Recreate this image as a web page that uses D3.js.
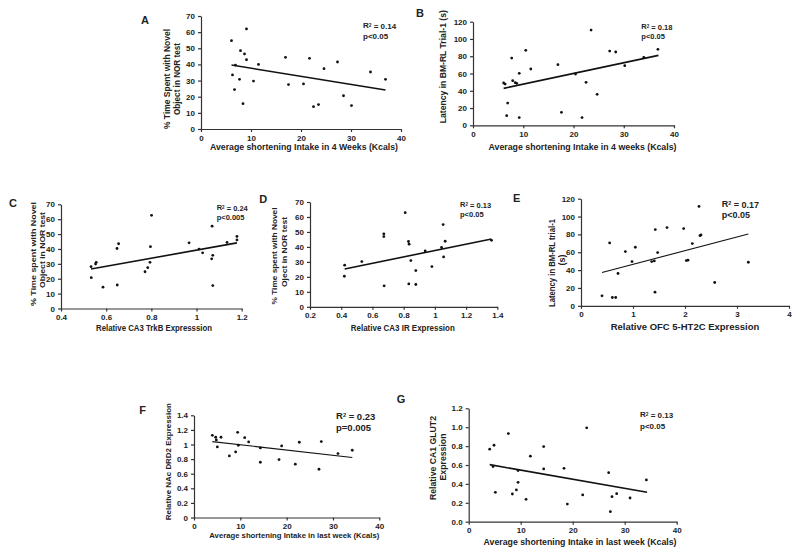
<!DOCTYPE html>
<html><head><meta charset="utf-8">
<script src="https://cdn.jsdelivr.net/npm/d3@7"></script>
<style>
html,body{margin:0;padding:0;background:#fff;}
svg{display:block;font-family:"Liberation Sans",Arial,sans-serif;font-weight:bold;}
</style></head>
<body><svg id="chart" width="800" height="555"></svg>
<script>
// ---------- DATA ----------
const aX = [6.1,9.1,7.9,8.7,9.1,6.9,11.5,6.3,7.7,10.5,6.7,8.4,16.9,17.5,20.5,21.7,22.5,23.5,24.6,27.3,28.5,30.1,33.9,36.9];
const aY = [54.7,62.0,48.5,46.5,42.9,39.6,40.0,33.5,30.8,29.7,24.4,15.7,44.4,27.5,27.9,43.8,13.8,15.1,37.4,41.5,20.6,14.5,35.3,30.8];
const aLine = [[6.1,39.6],[36.9,24.2]];

const bX = [6.1,6.4,6.7,6.9,7.7,7.9,8.4,8.7,9.2,9.2,10.5,11.5,16.9,17.6,20.4,21.7,22.5,23.5,24.7,27.2,28.4,30.2,34.0,36.8];
const bY = [49.0,47.8,11.2,25.8,77.9,51.7,49.4,48.6,60.2,8.9,86.8,65.2,70.2,15.0,59.4,8.9,49.8,110.3,35.9,86.0,84.9,69.1,78.7,88.0];
const bLine = [[6.1,42.8],[36.9,81.0]];

const cX = [0.533,0.534,0.553,0.556,0.586,0.648,0.655,0.649,0.772,0.784,0.794,0.796,0.801,0.967,1.011,1.027,1.069,1.072,1.067,1.072,1.135,1.179,1.179];
const cY = [28.1,20.7,29.9,31.0,14.3,40.3,43.5,15.8,24.7,27.4,31.0,41.5,62.6,44.1,39.9,37.4,55.3,35.7,33.4,15.4,44.4,48.4,46.1];
const cLine = [[0.533,26.5],[1.179,44.1]];

const dX = [0.422,0.420,0.532,0.673,0.673,0.675,0.810,0.831,0.835,0.833,0.846,0.878,0.878,0.938,0.981,1.043,1.053,1.056,1.066,1.363];
const dY = [27.8,20.4,30.2,48.7,46.9,14.0,62.9,43.6,41.8,15.3,30.9,24.2,14.9,37.3,26.9,39.6,54.9,33.3,43.8,44.4];
const dLine = [[0.422,25.3],[1.363,45.3]];

const eX = [0.404,0.551,0.603,0.667,0.712,0.853,0.981,1.045,1.359,1.410,1.429,1.423,1.474,1.654,1.974,2.026,2.058,2.141,2.269,2.288,2.308,2.571,3.218];
const eY = [11.2,70.4,9.3,9.3,36.2,60.8,49.6,65.6,49.6,50.3,85.4,15.3,59.6,87.6,86.5,50.7,51.1,69.7,111.4,78.6,79.4,26.1,48.8];
const eLine = [[0.404,37.3],[3.218,80.5]];

const fX = [3.96,4.68,4.82,5.04,5.83,7.63,8.99,9.42,9.57,10.94,11.8,14.32,14.32,18.35,18.92,21.87,22.73,26.98,27.48,31.08,34.17];
const fY = [1.126,1.099,1.062,0.967,1.099,0.844,0.898,1.167,0.990,1.094,1.035,0.953,0.757,0.793,0.980,0.730,1.031,0.661,1.040,0.876,0.921];
const fLine = [[3.96,1.04],[34.17,0.821]];

const gX = [4.04,4.87,4.68,5.13,7.63,8.4,9.17,9.49,9.49,11.03,11.86,14.42,14.42,18.33,18.97,21.92,22.69,26.92,27.24,27.56,28.46,31.03,34.17];
const gY = [0.767,0.809,0.583,0.311,0.933,0.293,0.336,0.541,0.417,0.237,0.693,0.795,0.558,0.565,0.187,0.283,0.993,0.519,0.106,0.265,0.297,0.251,0.442];
const gLine = [[4.04,0.604],[34.3,0.311]];

const ticks0to40 = [0,10,20,30,40];
const ticks0to70 = [0,10,20,30,40,50,60,70];
const ticks0to120 = [0,20,40,60,80,100,120];
const ticksC = [0.4,0.6,0.8,1,1.2];
const ticksD = [0.2,0.4,0.6,0.8,1,1.2,1.4];
const ticksE = [0,1,2,3,4];
const ticksF = [0,0.2,0.4,0.6,0.8,1,1.2,1.4];
const ticksG = [0,0.2,0.4,0.6,0.8,1.0,1.2];

// ---------- PANELS ----------
const panels = [
 {id:"A", x:aX, y:aY, line:aLine, xd:[0,40], yd:[0,70], xt:ticks0to40, yt:ticks0to70, yf:d=>d,
  L:201,R:401,T:16,B:129, lw:1.6,
  letter:[145,20], xTitle:"Average shortening Intake in 4 Weeks (Kcals)", xT:[304,147,188,9],
  yTitle:["% Time Spent with Novel","Object in NOR test"], yT:[[167,79,100],[177,79,72]], yfs:9,
  r2:"0.14", p:"p<0.05", st:[363,26,35.7], sfs:8},
 {id:"B", x:bX, y:bY, line:bLine, xd:[0,40], yd:[0,120], xt:ticks0to40, yt:ticks0to120, yf:d=>d,
  L:473,R:674,T:21.7,B:125.3, lw:1.6,
  letter:[420,13.3], xTitle:"Average shortening Intake in 4 weeks  (Kcals)", xT:[582.5,146.7,188,9],
  yTitle:["Latency in BM-RL Trial-1  (s)"], yT:[[443,66.7,113]], yfs:9,
  r2:"0.18", p:"p<0.05", st:[641.3,26.7,36], sfs:7.5},
 {id:"C", x:cX, y:cY, line:cLine, xd:[0.4,1.2], yd:[0,70], xt:ticksC, yt:ticks0to70, yf:d=>d,
  L:61,R:241.7,T:204.3,B:308.5, lw:1.6,
  letter:[13,203], xTitle:"Relative CA3 TrkB Expresssion", xT:[154,327.7,116,8.5],
  yTitle:["% Time spent with Novel","Object in NOR test"], yT:[[32.8,254,104],[42.2,250,76]], yfs:8,
  r2:"0.24", p:"p<0.005", st:[216.7,208,217.5], sfs:7.5},
 {id:"D", x:dX, y:dY, line:dLine, xd:[0.2,1.4], yd:[0,70], xt:ticksD, yt:ticks0to70, yf:d=>d,
  L:310,R:497.3,T:202,B:306.8, lw:1.6,
  letter:[263.3,199.3], xTitle:"Relative CA3 IR Expression", xT:[402.8,328.3,104,8.5],
  yTitle:["% Time spent with Novel","Oject in NOR test"], yT:[[274.5,256,97],[284,252,70]], yfs:8,
  r2:"0.13", p:"p<0.05", st:[460,204.7,214.3], sfs:7.5},
 {id:"E", x:eX, y:eY, line:eLine, xd:[0,4], yd:[0,120], xt:ticksE, yt:ticks0to120, yf:d=>d,
  L:581,R:789,T:198.7,B:305.8, lw:1.1,
  letter:[516.7,197.7], xTitle:"Relative OFC 5-HT2C Expression", xT:[685,326.7,148.6,9],
  yTitle:["Latency in BM-RL trial-1","(s)"], yT:[[552.3,263,88],[561.7,260,null]], yfs:9,
  r2:"0.17", p:"p<0.05", st:[721.7,203.8,214.5], sfs:9},
 {id:"F", x:fX, y:fY, line:fLine, xd:[0,40], yd:[0,1.4], xt:ticks0to40, yt:ticksF, yf:d=>String(+d.toFixed(1)),
  L:194,R:379.3,T:415.3,B:517.5, lw:1.1,
  letter:[142.7,410], xTitle:"Average shortening Intake in last week (Kcals)", xT:[294.3,535,170,8],
  yTitle:["Relative NAc DRD2  Expression"], yT:[[168.3,461.7,117]], yfs:8,
  r2:"0.23", p:"p=0.005", st:[336,415.8,427.5], sfs:9.5},
 {id:"G", x:gX, y:gY, line:gLine, xd:[0,40], yd:[0,1.2], xt:ticks0to40, yt:ticksG, yf:d=>d.toFixed(1),
  L:468.7,R:676.7,T:408.3,B:521.7, lw:1.6,
  letter:[401,399.3], xTitle:"Average shortening Intake in last week (Kcals)", xT:[580,542.3,193,9],
  yTitle:["Relative CA1 GLUT2","Expression"], yT:[[433.3,458,84],[443.3,457,47]], yfs:9,
  r2:"0.13", p:"p<0.05", st:[640,414.8,425.9], sfs:8}
];

const svg = d3.select("#chart");
const ink = "#222";

panels.forEach(P => {
  const g = svg.append("g");
  const xs = d3.scaleLinear().domain(P.xd).range([P.L,P.R]);
  const ys = d3.scaleLinear().domain(P.yd).range([P.B,P.T]);

  const xa = g.append("g").attr("transform",`translate(0,${P.B})`)
    .call(d3.axisBottom(xs).tickValues(P.xt).tickSize(3).tickSizeOuter(0).tickPadding(3).tickFormat(d=>String(+d.toFixed(1))));
  const ya = g.append("g").attr("transform",`translate(${P.L},0)`)
    .call(d3.axisLeft(ys).tickValues(P.yt).tickSize(3).tickSizeOuter(0).tickPadding(3).tickFormat(P.yf));
  [xa,ya].forEach(a=>{
    a.selectAll("path,line").attr("stroke","#333").attr("stroke-width",1.2);
    a.selectAll("text").attr("fill",ink).style("font-size","8px").style("font-weight","bold");
  });

  g.selectAll("circle.pt").data(P.x.map((v,i)=>[v,P.y[i]])).join("circle")
    .attr("cx",d=>xs(d[0])).attr("cy",d=>ys(d[1])).attr("r",1.4).attr("fill","#111");

  g.append("line")
    .attr("x1",xs(P.line[0][0])).attr("y1",ys(P.line[0][1]))
    .attr("x2",xs(P.line[1][0])).attr("y2",ys(P.line[1][1]))
    .attr("stroke","#111").attr("stroke-width",P.lw);

  g.append("text").attr("x",P.letter[0]).attr("y",P.letter[1]).attr("dy","0.35em")
    .attr("text-anchor","middle").attr("fill",ink).style("font-size","11px").text(P.id);

  g.append("text").attr("x",P.xT[0]).attr("y",P.xT[1]).attr("dy","0.35em")
    .attr("text-anchor","middle").attr("fill",ink).style("font-size",P.xT[3]+"px")
    .attr("textLength",P.xT[2]).attr("lengthAdjust","spacingAndGlyphs").text(P.xTitle);

  P.yTitle.forEach((t,i)=>{
    const [cx,cy,len] = P.yT[i];
    const tx = g.append("text").attr("transform",`translate(${cx},${cy}) rotate(-90)`).attr("dy","0.35em")
      .attr("text-anchor","middle").attr("fill",ink).style("font-size",P.yfs+"px").text(t);
    if(len) tx.attr("textLength",len).attr("lengthAdjust","spacingAndGlyphs");
  });

  const r = g.append("text").attr("x",P.st[0]).attr("y",P.st[1]).attr("dy","0.3em")
    .attr("fill",ink).style("font-size",P.sfs+"px");
  r.append("tspan").text("R");
  r.append("tspan").attr("dy","-0.3em").style("font-size",(P.sfs*0.6)+"px").text("2");
  r.append("tspan").attr("dy","0.3em").text(" = "+P.r2);
  g.append("text").attr("x",P.st[0]).attr("y",P.st[2]).attr("dy","0.35em")
    .attr("fill",ink).style("font-size",P.sfs+"px").text(P.p);
});
</script></body></html>
